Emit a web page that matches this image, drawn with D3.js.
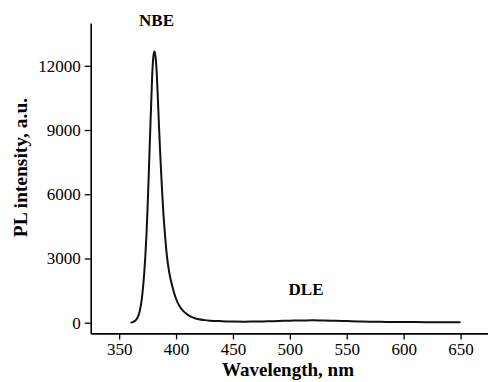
<!DOCTYPE html>
<html>
<head>
<meta charset="utf-8">
<script src="https://cdn.jsdelivr.net/npm/d3@7"></script>
<style>
  body { margin: 0; background: #fff; }
</style>
</head>
<body>
<svg width="488" height="382"></svg>
<script>
// spectrum
var wavelength = [360, 362, 364, 366, 368, 370, 372, 373, 374, 375, 376, 377, 378, 379, 380, 381,
  382, 383, 384, 385, 386, 387, 388, 389, 390, 392, 394, 396, 398, 400, 403, 406, 410, 415, 420,
  425, 430, 440, 450, 460, 470, 480, 490, 500, 510, 520, 530, 540, 550, 560, 570, 580, 590, 600,
  620, 650];
var intensity = [0, 30, 90, 220, 520, 1150, 2300, 3100, 4100, 5400, 6900, 8500, 10000, 11500, 12400, 12680,
  12400, 11700, 10500, 9200, 8000, 6900, 5900, 5000, 4300, 3100, 2350, 1850, 1450, 1120, 780, 560, 380, 240, 160,
  120, 95, 70, 55, 50, 55, 65, 80, 95, 105, 110, 100, 90, 75, 60, 50, 40, 35, 30,
  25, 20];
var xTicks = [350, 400, 450, 500, 550, 600, 650];
var yTicks = [0, 3000, 6000, 9000, 12000];

var serif = "Liberation Serif";
var svg = d3.select("svg");

var x = d3.scaleLinear().domain([325, 675]).range([90.7, 489]);
var y = d3.scaleLinear().domain([-500, 14000]).range([333.4, 23]);

var xAxis = svg.append("g")
  .attr("transform", "translate(0," + y(-500) + ")")
  .call(d3.axisBottom(x).tickValues(xTicks).tickFormat(d3.format("d"))
    .tickSize(6).tickSizeOuter(0).tickPadding(4));
var yAxis = svg.append("g")
  .attr("transform", "translate(" + x(325) + ",0)")
  .call(d3.axisLeft(y).tickValues(yTicks).tickFormat(d3.format("d"))
    .tickSize(6).tickSizeOuter(0).tickPadding(4));

[xAxis, yAxis].forEach(function(a){
  a.attr("font-family", serif).attr("font-size", 17);
  a.select(".domain").attr("stroke", "#000").attr("stroke-width", 1.6);
  a.selectAll(".tick line").attr("stroke", "#000").attr("stroke-width", 1.3);
  a.selectAll(".tick text").attr("fill", "#000");
});

var line = d3.line()
  .x(function(d, i){ return x(wavelength[i]); })
  .y(function(d){ return y(d); })
  .curve(d3.curveMonotoneX);

svg.append("path")
  .datum(intensity)
  .attr("fill", "none")
  .attr("stroke", "#111")
  .attr("stroke-width", 2)
  .attr("d", line);

function label(txt, size) {
  return svg.append("text")
    .attr("font-family", serif)
    .attr("text-anchor", "middle")
    .attr("font-weight", "bold")
    .attr("font-size", size)
    .text(txt);
}

label("Wavelength, nm", 19).attr("x", 288).attr("y", 376);
label("PL intensity, a.u.", 19.5).attr("transform", "translate(27,167.5) rotate(-90)");
label("NBE", 17).attr("x", 156.5).attr("y", 26);
label("DLE", 17).attr("x", 306).attr("y", 295);
</script>
</body>
</html>
